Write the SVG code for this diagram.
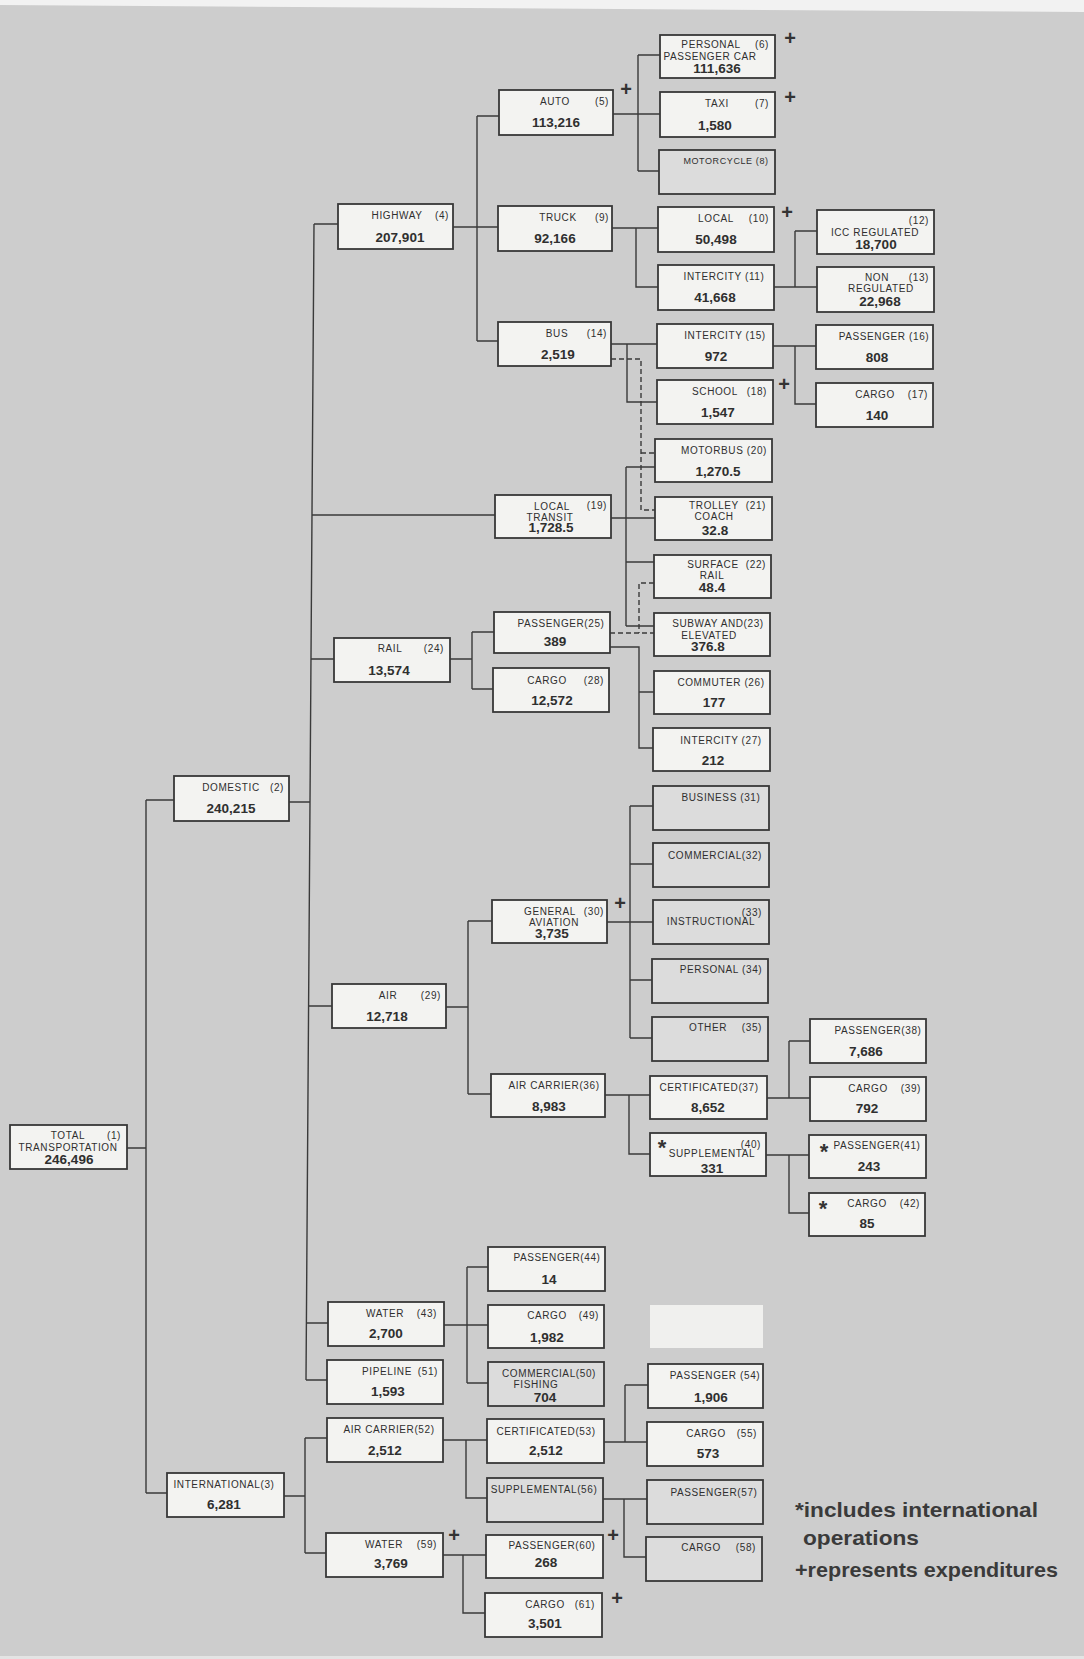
<svg xmlns="http://www.w3.org/2000/svg" width="1084" height="1659" viewBox="0 0 1084 1659">
<style>
.b{fill:#f3f3f1;stroke:#383838;stroke-width:1.8}
.g{fill:#dcdcdc;stroke:#383838;stroke-width:1.8}
.t{font-family:'Liberation Sans',Arial,sans-serif;font-size:10px;letter-spacing:0.6px;fill:#2f2f2f;text-anchor:middle}
.e{text-anchor:end}
.v{font-family:'Liberation Sans',Arial,sans-serif;font-size:13.5px;font-weight:bold;fill:#2f2f2f;text-anchor:middle}
.p{font-family:'Liberation Sans',Arial,sans-serif;font-size:20px;font-weight:bold;fill:#333;text-anchor:middle}
.s{font-family:'Liberation Sans',Arial,sans-serif;font-size:22px;font-weight:bold;fill:#333;text-anchor:middle}
.c path{fill:none;stroke:#3a3a3a;stroke-width:1.4}
.c path.d{stroke-dasharray:5 3}
.lg{font-family:'Liberation Sans',Arial,sans-serif;font-size:21px;font-weight:bold;fill:#3a3a3a}
</style>
<rect x="0" y="0" width="1084" height="1659" fill="#cdcdcd"/>
<polygon points="0,0 1084,0 1084,12 0,5" fill="#f2f2f2"/>
<rect x="0" y="1656" width="1084" height="3" fill="#e4e4e4"/>

<g id="connectors" class="c">
<path d="M127,1148 H146 M146,800 V1493 M146,800 H174 M146,1493 H167"/>
<path d="M289,802 H310 M314,224 L306,1380 M314,224 H338 M312,515 H495 M311,659 H334 M308.6,1006 H332 M306.4,1323 H328 M306,1380 H327"/>
<path d="M284,1496 H305 M305,1438 V1553 M305,1438 H327 M305,1553 H326"/>
<path d="M453,227 H498 M477,116 V341 M477,116 H499 M477,341 H498"/>
<path d="M613,114 H660 M638,55 V171 M638,55 H660 M638,171 H659"/>
<path d="M612,228 H658 M636,228 V287 H658"/>
<path d="M774,287 H817 M795,231 V287 M795,231 H817"/>
<path d="M611,344 H657 M627,344 V402 H657"/>
<path d="M773,346 H816 M795,346 V404 H816"/>
<path class="d" d="M611,359 H641 V510 H655 M641,453 H655"/>
<path d="M611,518 H655 M626,467 V626 M626,467 H655 M626,562 H654 M626,626 H654"/>
<path class="d" d="M654,583 H639 V633 M610,633 H654"/>
<path d="M450,659 H472 M472,632 V689 M472,632 H494 M472,689 H493"/>
<path d="M610,647 H639 V748 H653 M639,692 H654"/>
<path d="M446,1007 H468 M468,921 V1094 M468,921 H492 M468,1094 H491"/>
<path d="M607,922 H653 M630,806 V1038 M630,806 H653 M630,864 H653 M630,980 H652 M630,1038 H652"/>
<path d="M605,1095 H650 M629,1095 V1154 H650"/>
<path d="M767,1098 H810 M789,1041 V1098 M789,1041 H810"/>
<path d="M766,1155 H809 M789,1155 V1213 H809"/>
<path d="M444,1325 H488 M467,1267 V1383 M467,1267 H488 M467,1383 H488"/>
<path d="M443,1440 H487 M466,1440 V1498 H487"/>
<path d="M604,1442 H647 M625,1385 V1442 M625,1385 H648"/>
<path d="M603,1499 H647 M624,1499 V1557 H646"/>
<path d="M443,1555 H486 M463,1555 V1613 H485"/>
</g>

<g id="n1"><rect class="b" x="10" y="1125" width="117" height="44"/><text class="t" x="68" y="1139">TOTAL</text><text class="t e" x="121" y="1139">(1)</text><text class="t" x="68" y="1151">TRANSPORTATION</text><text class="v" x="69" y="1164">246,496</text></g>
<g id="n2"><rect class="b" x="174" y="776" width="115" height="45"/><text class="t" x="231" y="791">DOMESTIC</text><text class="t e" x="284" y="791">(2)</text><text class="v" x="231" y="813">240,215</text></g>
<g id="n3"><rect class="b" x="167" y="1473" width="117" height="44"/><text class="t" x="224" y="1488">INTERNATIONAL(3)</text><text class="v" x="224" y="1509">6,281</text></g>
<g id="n4"><rect class="b" x="338" y="204" width="115" height="45"/><text class="t" x="397" y="219">HIGHWAY</text><text class="t e" x="449" y="219">(4)</text><text class="v" x="400" y="242">207,901</text></g>
<g id="n5"><rect class="b" x="499" y="90" width="114" height="45"/><text class="t" x="555" y="105">AUTO</text><text class="t e" x="609" y="105">(5)</text><text class="v" x="556" y="127">113,216</text></g>
<g id="n6"><rect class="b" x="660" y="35" width="115" height="43"/><text class="t" x="711" y="48">PERSONAL</text><text class="t e" x="769" y="48">(6)</text><text class="t" x="710" y="60">PASSENGER CAR</text><text class="v" x="717" y="73">111,636</text></g>
<g id="n7"><rect class="b" x="660" y="92" width="115" height="45"/><text class="t" x="717" y="107">TAXI</text><text class="t e" x="769" y="107">(7)</text><text class="v" x="715" y="130">1,580</text></g>
<g id="n8"><rect class="g" x="659" y="150" width="116" height="44"/><text class="t" x="726" y="164" style="font-size:9px">MOTORCYCLE (8)</text></g>
<g id="n9"><rect class="b" x="498" y="206" width="114" height="45"/><text class="t" x="558" y="221">TRUCK</text><text class="t e" x="609" y="221">(9)</text><text class="v" x="555" y="243">92,166</text></g>
<g id="n10"><rect class="b" x="658" y="207" width="116" height="45"/><text class="t" x="716" y="222">LOCAL</text><text class="t e" x="769" y="222">(10)</text><text class="v" x="716" y="244">50,498</text></g>
<g id="n11"><rect class="b" x="658" y="265" width="116" height="45"/><text class="t" x="724" y="280">INTERCITY (11)</text><text class="v" x="715" y="302">41,668</text></g>
<g id="n12"><rect class="b" x="817" y="210" width="117" height="44"/><text class="t e" x="929" y="224">(12)</text><text class="t" x="875" y="236">ICC REGULATED</text><text class="v" x="876" y="249">18,700</text></g>
<g id="n13"><rect class="b" x="817" y="267" width="117" height="45"/><text class="t" x="877" y="281">NON</text><text class="t e" x="929" y="281">(13)</text><text class="t" x="881" y="292">REGULATED</text><text class="v" x="880" y="306">22,968</text></g>
<g id="n14"><rect class="b" x="498" y="322" width="113" height="44"/><text class="t" x="557" y="337">BUS</text><text class="t e" x="607" y="337">(14)</text><text class="v" x="558" y="359">2,519</text></g>
<g id="n15"><rect class="b" x="657" y="324" width="116" height="44"/><text class="t" x="725" y="339">INTERCITY (15)</text><text class="v" x="716" y="361">972</text></g>
<g id="n16"><rect class="b" x="816" y="325" width="117" height="44"/><text class="t" x="884" y="340">PASSENGER (16)</text><text class="v" x="877" y="362">808</text></g>
<g id="n17"><rect class="b" x="816" y="383" width="117" height="44"/><text class="t" x="875" y="398">CARGO</text><text class="t e" x="928" y="398">(17)</text><text class="v" x="877" y="420">140</text></g>
<g id="n18"><rect class="b" x="657" y="380" width="116" height="44"/><text class="t" x="715" y="395">SCHOOL</text><text class="t e" x="767" y="395">(18)</text><text class="v" x="718" y="417">1,547</text></g>
<g id="n19"><rect class="b" x="495" y="495" width="116" height="43"/><text class="t" x="552" y="510">LOCAL</text><text class="t e" x="607" y="509">(19)</text><text class="t" x="550" y="521">TRANSIT</text><text class="v" x="551" y="532">1,728.5</text></g>
<g id="n20"><rect class="b" x="655" y="439" width="117" height="43"/><text class="t" x="724" y="454">MOTORBUS (20)</text><text class="v" x="718" y="476">1,270.5</text></g>
<g id="n21"><rect class="b" x="655" y="497" width="117" height="43"/><text class="t" x="714" y="509">TROLLEY</text><text class="t e" x="766" y="509">(21)</text><text class="t" x="714" y="520">COACH</text><text class="v" x="715" y="535">32.8</text></g>
<g id="n22"><rect class="b" x="654" y="555" width="117" height="43"/><text class="t" x="713" y="568">SURFACE</text><text class="t e" x="766" y="568">(22)</text><text class="t" x="712" y="579">RAIL</text><text class="v" x="712" y="592">48.4</text></g>
<g id="n23"><rect class="b" x="654" y="613" width="116" height="43"/><text class="t" x="718" y="627">SUBWAY AND(23)</text><text class="t" x="709" y="639">ELEVATED</text><text class="v" x="708" y="651">376.8</text></g>
<g id="n24"><rect class="b" x="334" y="638" width="116" height="44"/><text class="t" x="390" y="652">RAIL</text><text class="t e" x="444" y="652">(24)</text><text class="v" x="389" y="675">13,574</text></g>
<g id="n25"><rect class="b" x="494" y="612" width="116" height="41"/><text class="t" x="561" y="627">PASSENGER(25)</text><text class="v" x="555" y="646">389</text></g>
<g id="n26"><rect class="b" x="654" y="671" width="116" height="43"/><text class="t" x="721" y="686">COMMUTER (26)</text><text class="v" x="714" y="707">177</text></g>
<g id="n27"><rect class="b" x="653" y="728" width="117" height="43"/><text class="t" x="721" y="744">INTERCITY (27)</text><text class="v" x="713" y="765">212</text></g>
<g id="n28"><rect class="b" x="493" y="668" width="116" height="44"/><text class="t" x="547" y="684">CARGO</text><text class="t e" x="604" y="684">(28)</text><text class="v" x="552" y="705">12,572</text></g>
<g id="n29"><rect class="b" x="332" y="984" width="114" height="44"/><text class="t" x="388" y="999">AIR</text><text class="t e" x="441" y="999">(29)</text><text class="v" x="387" y="1021">12,718</text></g>
<g id="n30"><rect class="b" x="492" y="900" width="115" height="43"/><text class="t" x="550" y="915">GENERAL</text><text class="t e" x="604" y="915">(30)</text><text class="t" x="554" y="926">AVIATION</text><text class="v" x="552" y="938">3,735</text></g>
<g id="n31"><rect class="g" x="653" y="786" width="116" height="44"/><text class="t" x="721" y="801">BUSINESS (31)</text></g>
<g id="n32"><rect class="g" x="653" y="843" width="116" height="44"/><text class="t" x="715" y="859">COMMERCIAL(32)</text></g>
<g id="n33"><rect class="g" x="653" y="900" width="116" height="44"/><text class="t e" x="762" y="916">(33)</text><text class="t" x="711" y="925">INSTRUCTIONAL</text></g>
<g id="n34"><rect class="g" x="652" y="959" width="116" height="44"/><text class="t" x="721" y="973">PERSONAL (34)</text></g>
<g id="n35"><rect class="g" x="652" y="1017" width="116" height="44"/><text class="t" x="708" y="1031">OTHER</text><text class="t e" x="762" y="1031">(35)</text></g>
<g id="n36"><rect class="b" x="491" y="1074" width="114" height="43"/><text class="t" x="554" y="1089">AIR CARRIER(36)</text><text class="v" x="549" y="1111">8,983</text></g>
<g id="n37"><rect class="b" x="650" y="1076" width="117" height="43"/><text class="t" x="709" y="1091">CERTIFICATED(37)</text><text class="v" x="708" y="1112">8,652</text></g>
<g id="n40"><rect class="b" x="650" y="1133" width="116" height="43"/><text class="s" x="662" y="1155">*</text><text class="t e" x="761" y="1148">(40)</text><text class="t" x="712" y="1157">SUPPLEMENTAL</text><text class="v" x="712" y="1173">331</text></g>
<g id="n38"><rect class="b" x="810" y="1019" width="116" height="44"/><text class="t" x="878" y="1034">PASSENGER(38)</text><text class="v" x="866" y="1056">7,686</text></g>
<g id="n39"><rect class="b" x="810" y="1077" width="116" height="44"/><text class="t" x="868" y="1092">CARGO</text><text class="t e" x="921" y="1092">(39)</text><text class="v" x="867" y="1113">792</text></g>
<g id="n41"><rect class="b" x="809" y="1135" width="117" height="43"/><text class="s" x="824" y="1159">*</text><text class="t" x="877" y="1149">PASSENGER(41)</text><text class="v" x="869" y="1171">243</text></g>
<g id="n42"><rect class="b" x="809" y="1193" width="116" height="43"/><text class="s" x="823" y="1216">*</text><text class="t" x="867" y="1207">CARGO</text><text class="t e" x="920" y="1207">(42)</text><text class="v" x="867" y="1228">85</text></g>
<g id="n43"><rect class="b" x="328" y="1302" width="116" height="44"/><text class="t" x="385" y="1317">WATER</text><text class="t e" x="437" y="1317">(43)</text><text class="v" x="386" y="1338">2,700</text></g>
<g id="n44"><rect class="b" x="488" y="1247" width="117" height="44"/><text class="t" x="557" y="1261">PASSENGER(44)</text><text class="v" x="549" y="1284">14</text></g>
<g id="n49"><rect class="b" x="488" y="1305" width="116" height="43"/><text class="t" x="547" y="1319">CARGO</text><text class="t e" x="599" y="1319">(49)</text><text class="v" x="547" y="1342">1,982</text></g>
<g id="n50"><rect class="g" x="488" y="1362" width="116" height="44"/><text class="t" x="549" y="1377">COMMERCIAL(50)</text><text class="t" x="536" y="1388">FISHING</text><text class="v" x="545" y="1402">704</text></g>
<g id="n51"><rect class="b" x="327" y="1360" width="116" height="44"/><text class="t" x="387" y="1375">PIPELINE</text><text class="t e" x="438" y="1375">(51)</text><text class="v" x="388" y="1396">1,593</text></g>
<g id="n52"><rect class="b" x="327" y="1418" width="116" height="44"/><text class="t" x="389" y="1433">AIR CARRIER(52)</text><text class="v" x="385" y="1455">2,512</text></g>
<g id="n53"><rect class="b" x="487" y="1419" width="117" height="44"/><text class="t" x="546" y="1435">CERTIFICATED(53)</text><text class="v" x="546" y="1455">2,512</text></g>
<g id="n54"><rect class="b" x="648" y="1364" width="115" height="44"/><text class="t" x="715" y="1379">PASSENGER (54)</text><text class="v" x="711" y="1402">1,906</text></g>
<g id="n55"><rect class="b" x="647" y="1422" width="116" height="44"/><text class="t" x="706" y="1437">CARGO</text><text class="t e" x="757" y="1437">(55)</text><text class="v" x="708" y="1458">573</text></g>
<g id="n56"><rect class="g" x="487" y="1478" width="116" height="44"/><text class="t" x="544" y="1493">SUPPLEMENTAL(56)</text></g>
<g id="n57"><rect class="g" x="647" y="1480" width="116" height="44"/><text class="t" x="714" y="1496">PASSENGER(57)</text></g>
<g id="n58"><rect class="g" x="646" y="1537" width="116" height="44"/><text class="t" x="701" y="1551">CARGO</text><text class="t e" x="756" y="1551">(58)</text></g>
<g id="n59"><rect class="b" x="326" y="1533" width="117" height="44"/><text class="t" x="384" y="1548">WATER</text><text class="t e" x="437" y="1548">(59)</text><text class="v" x="391" y="1568">3,769</text></g>
<g id="n60"><rect class="b" x="486" y="1535" width="117" height="43"/><text class="t" x="552" y="1549">PASSENGER(60)</text><text class="v" x="546" y="1567">268</text></g>
<g id="n61"><rect class="b" x="485" y="1593" width="117" height="44"/><text class="t" x="545" y="1608">CARGO</text><text class="t e" x="595" y="1608">(61)</text><text class="v" x="545" y="1628">3,501</text></g>
<rect x="650" y="1305" width="113" height="43" fill="#f0f0ee"/>

<g id="plus-marks">
<text class="p" x="790" y="45">+</text>
<text class="p" x="626" y="96">+</text>
<text class="p" x="790" y="104">+</text>
<text class="p" x="787" y="219">+</text>
<text class="p" x="784" y="391">+</text>
<text class="p" x="620" y="910">+</text>
<text class="p" x="454" y="1542">+</text>
<text class="p" x="613" y="1542">+</text>
<text class="p" x="617" y="1605">+</text>
</g>

<g id="legend">
<text class="lg" x="795" y="1517" textLength="243" lengthAdjust="spacingAndGlyphs">*includes international</text>
<text class="lg" x="803" y="1545" textLength="116" lengthAdjust="spacingAndGlyphs">operations</text>
<text class="lg" x="795" y="1577" textLength="263" lengthAdjust="spacingAndGlyphs">+represents expenditures</text>
</g>
</svg>
